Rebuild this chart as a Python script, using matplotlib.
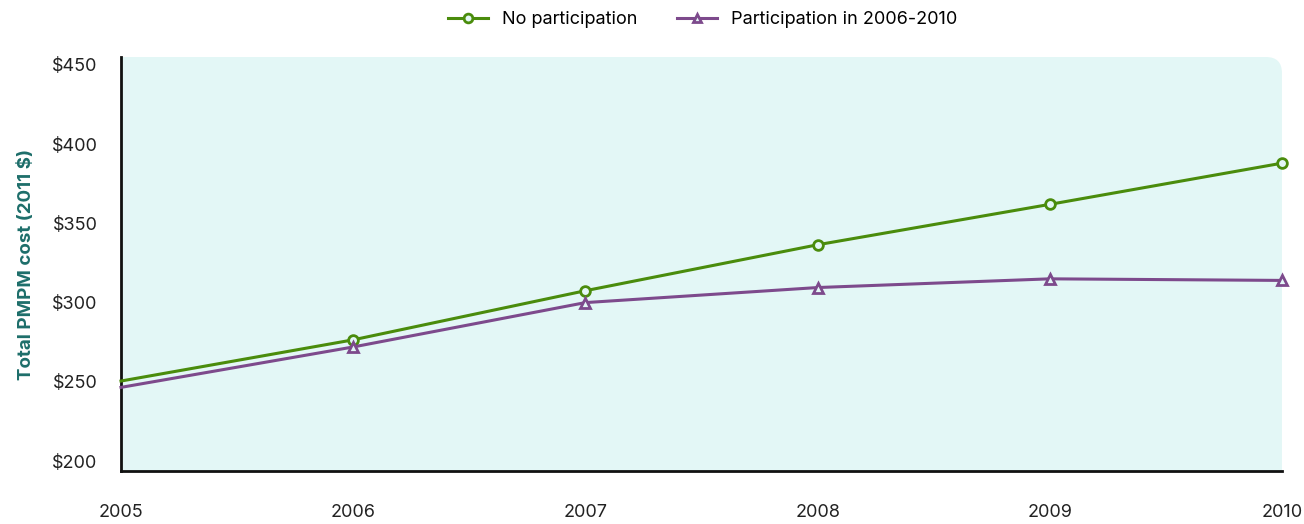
import numpy as np
import matplotlib.pyplot as plt
from matplotlib.path import Path
from matplotlib.patches import PathPatch

plt.rcParams['font.family'] = ['Inter', 'DejaVu Sans']

years = [2005, 2006, 2007, 2008, 2009, 2010]
no_participation = [250.5, 276.5, 307.5, 336.5, 362.0, 388.0]
participation = [246.5, 272.0, 300.0, 309.5, 315.0, 314.0]
ytick_values = [200, 250, 300, 350, 400, 450]

green = '#4a8c0c'
purple = '#7d4a8c'
bg = '#e3f7f6'

fig = plt.figure(figsize=(13.04, 5.24), dpi=100)
ax = fig.add_axes([0.0928, 0.1011, 0.8903, 0.7901])
ax.set_facecolor('none')

# background panel, rounded only at the top-right corner
w_px = 0.8903 * 1304
h_px = 0.7901 * 524
rx = 16 / w_px
ry = 16 / h_px
verts = [(0, 0), (1, 0), (1, 1 - ry), (1, 1), (1 - rx, 1), (0, 1), (0, 0)]
codes = [Path.MOVETO, Path.LINETO, Path.LINETO, Path.CURVE3, Path.CURVE3,
         Path.LINETO, Path.CLOSEPOLY]
ax.add_patch(PathPatch(Path(verts, codes), transform=ax.transAxes,
                       facecolor=bg, edgecolor='none', zorder=0))

ax.plot(years, no_participation, color=green, lw=2.2, marker='o', ms=7,
        mfc=bg, mec=green, mew=2, markevery=list(range(1, 6)),
        label='No participation', zorder=3, clip_on=False)
ax.plot(years, participation, color=purple, lw=2.2, marker='^', ms=7,
        mfc=bg, mec=purple, mew=2, markevery=list(range(1, 6)),
        label='Participation in 2006-2010', zorder=3, clip_on=False)

ax.set_xlim(2005, 2010)
ax.set_ylim(193.7, 455)
ax.set_xticks(years)
ax.set_xticklabels([str(y) for y in years])
ax.set_yticks(ytick_values)
ax.set_yticklabels(['$' + str(v) for v in ytick_values])
ax.tick_params(axis='both', length=0, labelsize=13, colors='#222222')
ax.tick_params(axis='x', pad=24)
ax.tick_params(axis='y', pad=17)

for side in ['top', 'right']:
    ax.spines[side].set_visible(False)
for side in ['left', 'bottom']:
    ax.spines[side].set_linewidth(2)
    ax.spines[side].set_color('#111111')

ax.set_ylabel('Total PMPM cost (2011 $)', color='#1d6e6a', fontsize=13.5,
              fontweight='bold', labelpad=12)

fig.legend(loc='upper center', bbox_to_anchor=(0.539, 1.01), ncol=2,
           frameon=False, fontsize=13, handlelength=2.2, columnspacing=2.2,
           markerscale=0.9)

fig.savefig('out.png', dpi=100)
